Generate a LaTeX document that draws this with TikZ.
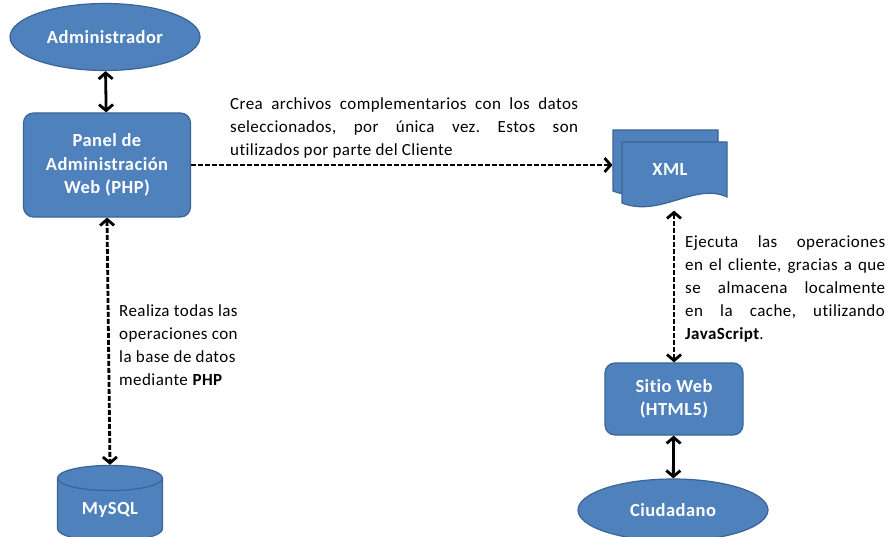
\documentclass[tikz,border=0pt]{standalone}
\usepackage{fontspec}
\setmainfont{Carlito}[LetterSpace=2.5, RawFeature=-liga]
\usetikzlibrary{shapes.geometric,arrows.meta}
\definecolor{boxblue}{HTML}{4F81BD}
\definecolor{boxline}{HTML}{3A6496}
\frenchspacing
\tikzset{
    blueshape/.style={fill=boxblue, draw=boxline, line width=1.2pt, text=white,
        font=\fontsize{18.5}{23.5}\selectfont\bfseries, align=center, inner sep=0pt},
    barb/.tip={Straight Barb[length=6pt,width=14pt]},
    solidlink/.style={line width=2.8pt, barb-barb},
    dashlink/.style={line width=2.8pt, dash pattern=on 5pt off 2pt},
    note/.style={font=\fontsize{17}{23}\selectfont, inner sep=0pt, anchor=north west}
}
\begin{document}
\begin{tikzpicture}[x=1pt,y=-1pt]
    \useasboundingbox[fill=white] (0,0) rectangle (890,537);
    % actors
    \node[blueshape, ellipse, minimum width=190pt, minimum height=67pt] (admin) at (105,37) {Administrador};
    \node[blueshape, ellipse, minimum width=190pt, minimum height=62pt] (ciudadano) at (673,510) {Ciudadano};
    % boxes
    \node[blueshape, rounded corners=10pt, minimum width=167pt, minimum height=104pt] (panel) at (107,165)
        {Panel de\\Administración\\Web (PHP)};
    \node[blueshape, rounded corners=10pt, minimum width=138pt, minimum height=72pt] (sitio) at (674,399)
        {Sitio Web\\(HTML5)};
    % database
    \node[blueshape, cylinder, shape border rotate=90, aspect=0.45, minimum width=105pt, minimum height=76pt] (mysql) at (110,510) {MySQL};
    % xml documents
    \draw[fill=boxblue, draw=boxline, line width=1.2pt] (613,130) -- (718,130) -- (718,185)
        .. controls (686,170) and (651,206) .. (613,191) -- cycle;
    \draw[fill=boxblue, draw=boxline, line width=1.2pt] (622,142) -- (727,142) -- (727,197)
        .. controls (695,182) and (660,218) .. (622,203) -- cycle;
    \node[blueshape, minimum width=114pt, minimum height=80pt, fill=none, draw=none] (xml) at (670,170) {XML};
    % connectors
    \draw[solidlink] (admin) -- (panel);
    \draw[solidlink] (sitio) -- (ciudadano);
    \draw[dashlink, -barb] (panel.east) -- (panel.east -| xml.west);
    \draw[dashlink, barb-barb] (panel.south) -- (mysql.north);
    \draw[dashlink, barb-barb] (xml.south -| sitio.north) -- (sitio.north);
    % notes
    \node[note, text width=348pt, align=justify] (notexml) at (230,97)
        {Crea archivos complementarios con los datos\linebreak seleccionados, por única vez. Estos son\linebreak utilizados por parte del Cliente};
    \node[note, text width=200pt, align=justify] (notejs) at (685,235)
        {Ejecuta las operaciones\linebreak en el cliente, gracias a que\linebreak se almacena localmente\linebreak en la cache, utilizando\linebreak \textbf{JavaScript}.};
    \node[note, align=left] (notephp) at (119,304)
        {Realiza todas las\\operaciones con\\la base de datos\\mediante \textbf{PHP}};
\end{tikzpicture}
\end{document}
